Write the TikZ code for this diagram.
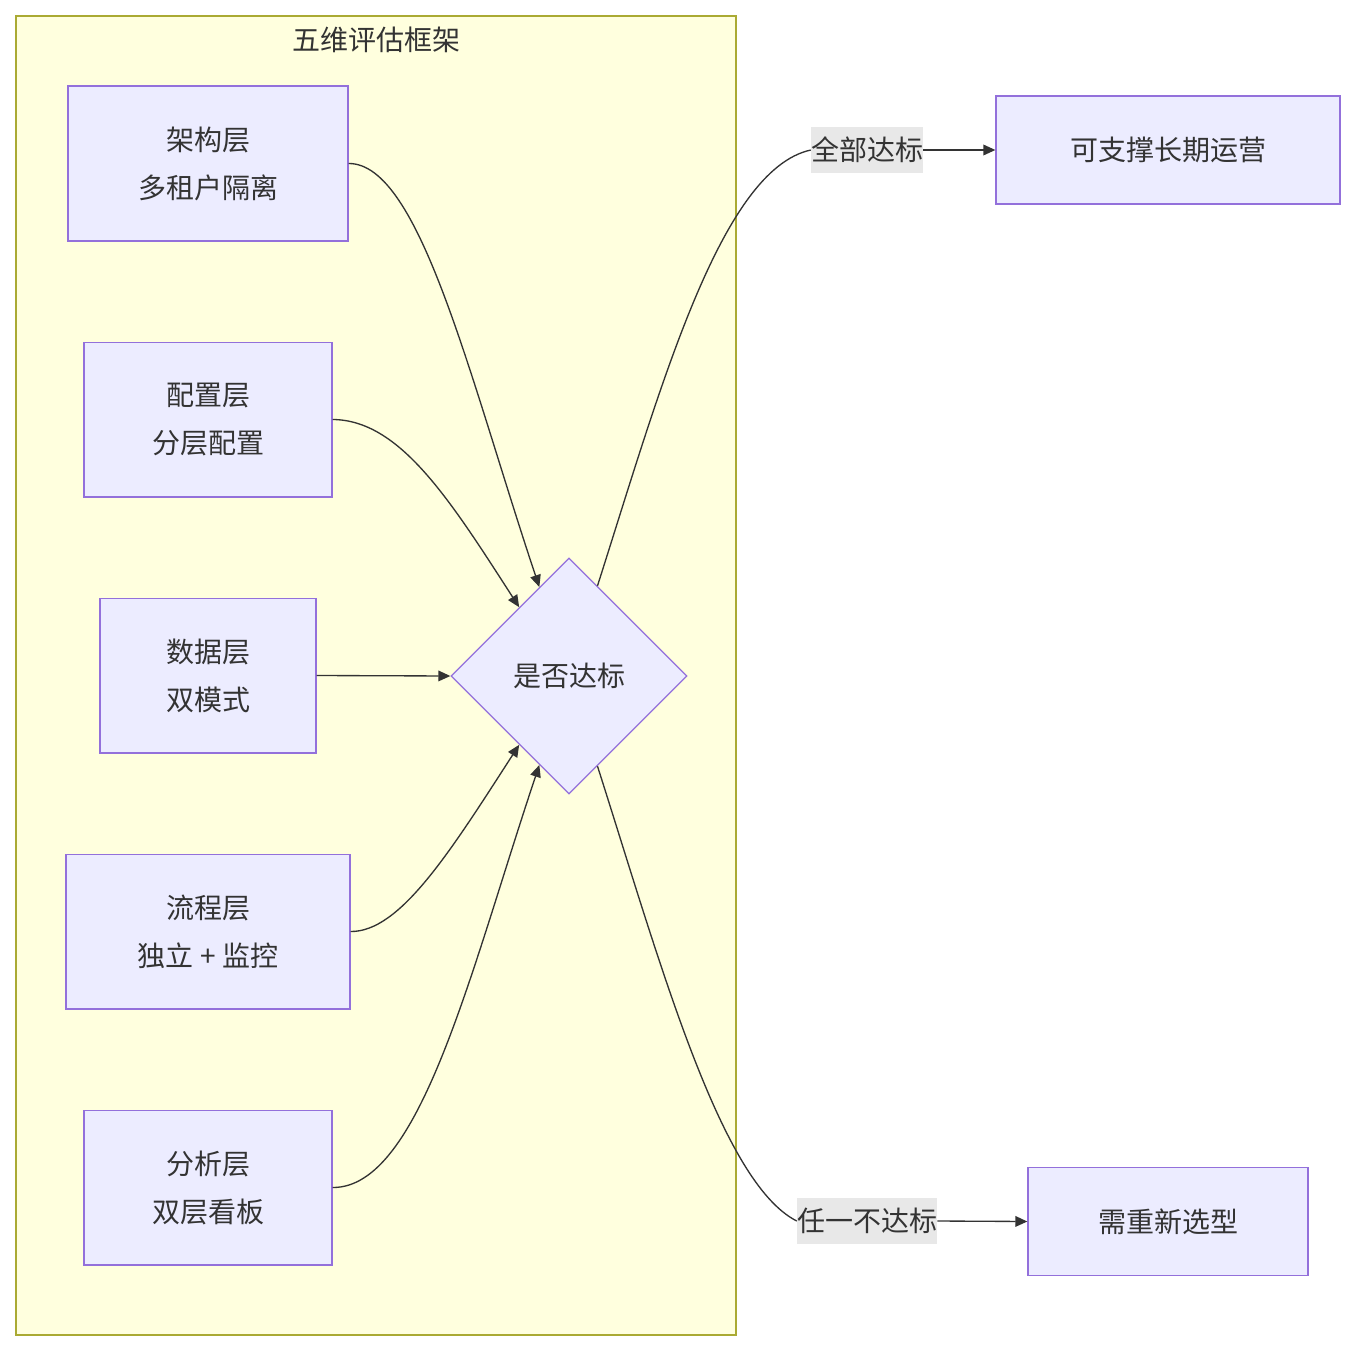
\documentclass[tikz,border=0pt]{standalone}
\usepackage{fontspec}
\setmainfont{Noto Sans CJK SC}
\usetikzlibrary{shapes.geometric,calc,arrows.meta}
\definecolor{nodefill}{HTML}{ECECFF}
\definecolor{nodeline}{HTML}{9370DB}
\definecolor{clfill}{HTML}{FFFFDE}
\definecolor{clline}{HTML}{AAAA33}
\definecolor{txt}{HTML}{333333}
\definecolor{lblbg}{HTML}{E8E8E8}
\begin{document}
\begin{tikzpicture}[x=0.75pt,y=-0.75pt,
  box/.style={draw=nodeline,fill=nodefill,line width=1pt,text=txt,font=\fontsize{21}{36}\selectfont,align=center,inner sep=0pt},
  lbl/.style={fill=lblbg,text=txt,font=\fontsize{21}{26}\selectfont,inner sep=0pt,minimum height=34pt},
  edge/.style={draw=txt,line width=1pt},
  arr/.style={edge,-{Triangle[length=9pt,width=8pt]}}]
\useasboundingbox (0,0) rectangle (1356,1352);
\fill[white] (0,0) rectangle (1356,1352);
\draw[fill=clfill,draw=clline,line width=1pt] (16,16) rectangle (736,1335);
\node[text=txt,font=\fontsize{21}{26}\selectfont] (title) at (376,40) {五维评估框架};
\node[box,minimum width=210pt,minimum height=116pt] (a) at (208,163.5) {架构层\\多租户隔离};
\node[box,minimum width=186pt,minimum height=116pt] (b) at (208,419.5) {配置层\\分层配置};
\node[box,minimum width=162pt,minimum height=116pt] (c) at (208,675.5) {数据层\\双模式};
\node[box,minimum width=213pt,minimum height=116pt] (d) at (208,931.5) {流程层\\独立 + 监控};
\node[box,minimum width=186pt,minimum height=116pt] (e) at (208,1187.5) {分析层\\双层看板};
\node[box,shape=diamond,aspect=1,minimum width=177pt,minimum height=177pt] (dia) at (569,676) {是否达标};
\node[box,minimum width=258pt,minimum height=81pt] (ok) at (1168,150) {可支撑长期运营};
\node[box,minimum width=210pt,minimum height=81pt] (no) at (1168,1221.5) {需重新选型};
\node[lbl] (l1) at (867,150) {全部达标};
\node[lbl] (l2) at (867,1221) {任一不达标};
\coordinate (nw1) at ($(dia.north)!0.25!(dia.west)$);
\coordinate (nw2) at ($(dia.north)!0.42!(dia.west)$);
\coordinate (sw2) at ($(dia.south)!0.42!(dia.west)$);
\coordinate (sw1) at ($(dia.south)!0.25!(dia.west)$);
\coordinate (ne) at ($(dia.north)!0.24!(dia.east)$);
\coordinate (se) at ($(dia.south)!0.24!(dia.east)$);
\draw[arr] (a.east) .. controls (420,163) and (470,380) .. (nw1);
\draw[arr] (b.east) .. controls (400,420) and (450,500) .. (nw2);
\draw[arr] (c.east) -- (dia.west);
\draw[arr] (d.east) .. controls (400,932) and (450,852) .. (sw2);
\draw[arr] (e.east) .. controls (420,1188) and (470,972) .. (sw1);
\draw[edge] (ne) .. controls (660,390) and (720,170) .. (l1.west);
\draw[arr] (l1.east) -- (ok.west);
\draw[edge] (se) .. controls (660,962) and (720,1182) .. (l2.west);
\draw[arr] (l2.east) -- (no.west);
\end{tikzpicture}
\end{document}
